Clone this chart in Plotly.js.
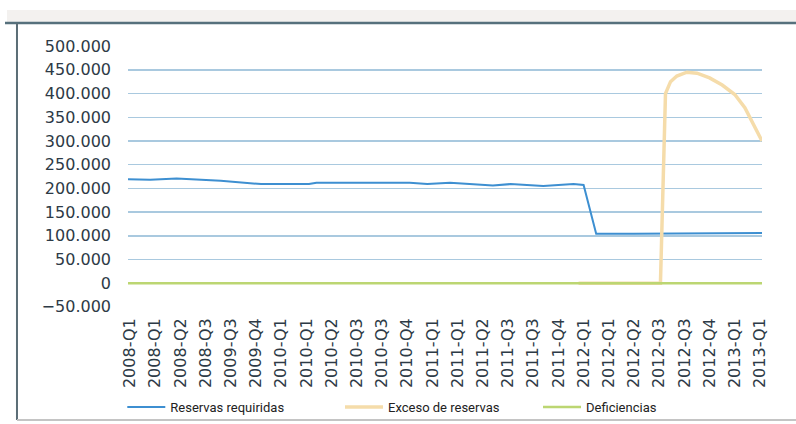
<!DOCTYPE html>
<html>
<head>
<meta charset="utf-8">
<script src="https://cdn.plot.ly/plotly-3.0.1.min.js"></script>
<style>
  html, body { margin: 0; padding: 0; background: #ffffff; }
  #chart { width: 796px; height: 424px; }
</style>
</head>
<body>
<div id="chart"></div>
<script>
// Category tick labels (quarters)
const periodLabels = [
  "2008-Q1", "2008-Q1", "2008-Q2", "2008-Q3", "2009-Q3", "2009-Q4",
  "2010-Q1", "2010-Q1", "2010-Q2", "2010-Q3", "2010-Q3", "2010-Q4",
  "2011-Q1", "2011-Q1", "2011-Q2", "2011-Q3", "2011-Q3", "2011-Q4",
  "2012-Q1", "2012-Q1", "2012-Q2", "2012-Q3", "2012-Q3", "2012-Q4",
  "2013-Q1", "2013-Q1"
];
const periodIndex = periodLabels.map((_, i) => i);

// Reservas requiridas (position on the period axis, value)
const requiredX = [-0.08, 0.8, 1.85, 3.6, 5.2, 7.1, 7.4, 9.0, 11.1, 11.8, 12.7, 14.4, 15.1, 16.4, 17.6, 18.0, 18.5, 20.0, 22.0, 24.0, 25.08];
const requiredY = [219000, 218000, 221000, 216000, 209000, 209000, 212000, 212000, 212000, 209000, 212000, 206000, 209000, 205000, 209000, 207000, 104000, 104000, 105000, 105000, 106000];

// Exceso de reservas
const excessX = [17.8, 21.05, 21.25, 21.45, 21.7, 22.1, 22.5, 23.0, 23.5, 24.0, 24.4, 24.75, 25.08];
const excessY = [0, 0, 400000, 425000, 437000, 445000, 443000, 433000, 418000, 398000, 370000, 335000, 300000];

// Deficiencias
const deficitX = [-0.08, 25.08];
const deficitY = [0, 0];

const seriesNames = ["Reservas requiridas", "Exceso de reservas", "Deficiencias"];

const traces = [
  {
    x: requiredX, y: requiredY, name: seriesNames[0], type: "scatter", mode: "lines",
    line: { color: "#3d8fd1", width: 2 }, legend: "legend", hoverinfo: "skip"
  },
  {
    x: excessX, y: excessY, name: seriesNames[1], type: "scatter", mode: "lines",
    line: { color: "#f5dcaa", width: 3.5 },
    legend: "legend2", hoverinfo: "skip"
  },
  {
    x: deficitX, y: deficitY, name: seriesNames[2], type: "scatter", mode: "lines",
    line: { color: "#bcd672", width: 2.5 }, legend: "legend3", hoverinfo: "skip"
  }
];

const legendFont = { family: "Liberation Sans Narrow, Arial Narrow, Roboto, sans-serif", size: 13, color: "#222222" };
const legendBase = { orientation: "h", yanchor: "middle", y: -0.383, xanchor: "left", bgcolor: "rgba(255,255,255,0)", font: legendFont, itemwidth: 38 };

const layout = {
  width: 796, height: 424,
  margin: { l: 128, r: 34, t: 46, b: 117, autoexpand: false },
  paper_bgcolor: "#ffffff", plot_bgcolor: "#ffffff",
  separators: ",.",
  showlegend: true,
  legend: Object.assign({}, legendBase, { x: -0.009 }),
  legend2: Object.assign({}, legendBase, { x: 0.3344 }),
  legend3: Object.assign({}, legendBase, { x: 0.6467 }),
  xaxis: {
    range: [-0.08, 25.08], automargin: false,
    tickmode: "array", tickvals: periodIndex, ticktext: periodLabels,
    tickangle: -90, showgrid: false, zeroline: false, showline: false,
    ticks: "", ticklabelstandoff: 7,
    tickfont: { family: "DejaVu Sans", size: 16, color: "#2d3a46" }
  },
  yaxis: {
    range: [-50300, 500300], automargin: false,
    tickvals: [-50000, 0, 50000, 100000, 150000, 200000, 250000, 300000, 350000, 400000, 450000, 500000],
    tickformat: ",d",
    showgrid: true, gridcolor: "#a9c9df", gridwidth: 1.5,
    zeroline: false, showline: false, ticks: "", ticklabelstandoff: 16,
    tickfont: { family: "DejaVu Sans", size: 16, color: "#2d3a46" }
  },
  shapes: [
    { type: "rect", xref: "paper", yref: "paper", x0: -0.1909, x1: 1.0536, y0: 1.092, y1: 1.1379, fillcolor: "#f3f1ef", line: { width: 0 }, layer: "below" },
    { type: "line", xref: "paper", yref: "paper", x0: -0.1940, x1: 1.0536, y0: 1.0881, y1: 1.0881, line: { color: "#56707c", width: 2.5 } },
    { type: "line", xref: "paper", yref: "paper", x0: -0.1751, x1: -0.1751, y0: 1.0881, y1: -0.4330, line: { color: "#5b6d76", width: 2 } },
    { type: "line", xref: "paper", yref: "paper", x0: -0.1751, x1: 1.0536, y0: -0.4330, y1: -0.4330, line: { color: "#c4c4c4", width: 2 } }
  ]
};

Plotly.newPlot("chart", traces, layout, { displayModeBar: false, staticPlot: true });
</script>
</body>
</html>
